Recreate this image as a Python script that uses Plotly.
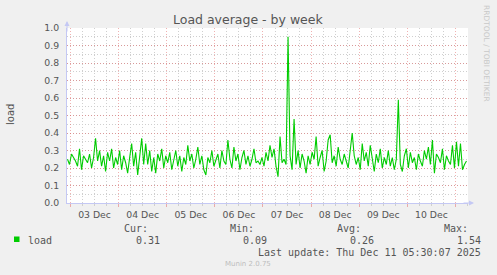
import plotly.graph_objects as go
import pandas as pd

# ---- data ----
start_time = "2025-12-02 22:30"
load_values = [
    0.25, 0.22, 0.28, 0.26, 0.24, 0.21, 0.31, 0.19, 0.27, 0.25, 0.23, 0.28, 0.20, 0.26, 0.37, 0.24, 0.30, 0.21, 0.27, 0.18,
    0.29, 0.24, 0.31, 0.20, 0.26, 0.22, 0.30, 0.19, 0.27, 0.23, 0.17, 0.26, 0.34, 0.21, 0.29, 0.16, 0.25, 0.37, 0.22, 0.34,
    0.22, 0.30, 0.18, 0.26, 0.17, 0.28, 0.24, 0.31, 0.20, 0.27, 0.23, 0.29, 0.19, 0.25, 0.30, 0.21, 0.27, 0.18, 0.26, 0.22,
    0.33, 0.24, 0.28, 0.20, 0.25, 0.32, 0.22, 0.27, 0.19, 0.16, 0.26, 0.23, 0.30, 0.21, 0.25, 0.28, 0.20, 0.30, 0.24, 0.22,
    0.36, 0.25, 0.20, 0.32, 0.24, 0.28, 0.19, 0.26, 0.30, 0.22, 0.27, 0.21, 0.25, 0.31, 0.23, 0.24, 0.22, 0.26, 0.21, 0.29,
    0.24, 0.33, 0.26, 0.31, 0.21, 0.15, 0.38, 0.23, 0.25, 0.22, 0.95, 0.27, 0.19, 0.48, 0.22, 0.30, 0.20, 0.28, 0.24, 0.17,
    0.27, 0.22, 0.29, 0.25, 0.38, 0.21, 0.26, 0.30, 0.18, 0.24, 0.36, 0.39, 0.23, 0.27, 0.21, 0.32, 0.25, 0.22, 0.28, 0.24,
    0.20, 0.30, 0.40, 0.27, 0.22, 0.26, 0.19, 0.34, 0.24, 0.29, 0.21, 0.33, 0.26, 0.18, 0.28, 0.23, 0.31, 0.20, 0.26, 0.22,
    0.30, 0.21, 0.26, 0.19, 0.25, 0.59, 0.22, 0.18, 0.27, 0.31, 0.20, 0.29, 0.23, 0.26, 0.19, 0.28, 0.24, 0.21, 0.30, 0.25,
    0.32, 0.22, 0.36, 0.17, 0.28, 0.26, 0.23, 0.31, 0.19, 0.27, 0.24, 0.22, 0.33, 0.20, 0.35, 0.21, 0.34, 0.19, 0.22, 0.24,
]
times = pd.date_range(start_time, periods=len(load_values), freq="h")

x_range = ["2025-12-02 22:15", "2025-12-11 06:15"]
y_ticks = [0.0, 0.1, 0.2, 0.3, 0.4, 0.5, 0.6, 0.7, 0.8, 0.9, 1.0]

title_text = "Load average - by week"
series_name = "load"
stat_labels = ["Cur:", "Min:", "Avg:", "Max:"]
stat_values = ["0.31", "0.09", "0.26", "1.54"]
last_update = "Last update: Thu Dec 11 05:30:07 2025"
footer = "Munin 2.0.75"
side_text = "RRDTOOL / TOBI OETIKER"

# ---- layout geometry ----
W, H = 497, 275
L, R, T, B = 67, 468, 28, 203


def px(x):
    return (x - L) / (R - L)


def py(y):
    return (B - y) / (B - T)


fig = go.Figure()
fig.add_trace(go.Scatter(x=times, y=load_values, mode="lines",
                         line=dict(color="#00CC00", width=1.1),
                         name=series_name, hoverinfo="skip"))

red_grid = "rgba(225,100,100,0.5)"
gray_grid = "#cfcfcf"
axis_col = "#c4c8f4"
txt = "#555555"
dots = "1px,2px"

fig.update_layout(
    width=W, height=H,
    margin=dict(l=L, r=W - R, t=T, b=H - B),
    paper_bgcolor="#F0F0F0", plot_bgcolor="#FFFFFF",
    showlegend=False,
    font=dict(family="DejaVu Sans", color=txt, size=9),
    xaxis=dict(
        type="date", range=x_range,
        dtick=86400000, tick0="2025-12-03",
        tickformat="%d %b", ticklabelmode="period",
        tickfont=dict(size=9.3, color=txt),
        showgrid=True, gridcolor=red_grid, griddash=dots, gridwidth=1,
        ticks="outside", ticklen=3, tickcolor=red_grid,
        minor=dict(dtick=21600000, showgrid=True, gridcolor=gray_grid, griddash=dots,
                   ticks="outside", ticklen=2, tickcolor=gray_grid),
        showline=True, linecolor=axis_col, linewidth=1,
        zeroline=False, fixedrange=True,
    ),
    yaxis=dict(
        range=[0, 1.0], tickvals=y_ticks, tickformat=".1f",
        tickfont=dict(size=9.3, color=txt),
        showgrid=True, gridcolor=red_grid, griddash=dots, gridwidth=1,
        ticks="", ticklabelstandoff=5,
        minor=dict(dtick=0.05, showgrid=True, gridcolor=gray_grid, griddash=dots),
        showline=True, linecolor=axis_col, linewidth=1,
        zeroline=False, fixedrange=True,
    ),
)


def text_ann(text, x, y, font, xanchor="center", textangle=0):
    return dict(text=text, x=px(x), y=py(y), xref="paper", yref="paper",
                xanchor=xanchor, yanchor="middle", showarrow=False,
                textangle=textangle, font=font)


ann = []
ann.append(text_ann(title_text, 248, 19, dict(size=12.5, color=txt, family="DejaVu Sans")))
ann.append(text_ann(series_name, 10, 115, dict(size=10, color=txt, family="DejaVu Sans"), textangle=-90))
ann.append(text_ann(side_text, 487, 53, dict(size=7.5, color="#c8c8c8", family="DejaVu Sans"), textangle=90))
# axis arrows
ann.append(dict(x=px(67), y=py(21), xref="paper", yref="paper", ax=0, ay=12,
                showarrow=True, arrowhead=2, arrowsize=1, arrowwidth=1, arrowcolor=axis_col, text=""))
ann.append(dict(x=px(474), y=py(203), xref="paper", yref="paper", ax=-12, ay=0,
                showarrow=True, arrowhead=2, arrowsize=1, arrowwidth=1, arrowcolor=axis_col, text=""))

mono = dict(family="DejaVu Sans Mono", size=10, color=txt)
label_right = [150, 256, 363, 470]
value_right = [162, 269, 376, 483]
for lab, vr, val, vv in zip(stat_labels, label_right, stat_values, value_right):
    ann.append(text_ann(lab, vr, 228, mono, xanchor="right"))
    ann.append(text_ann(val, vv, 240, mono, xanchor="right"))
ann.append(text_ann(series_name, 26, 240, mono, xanchor="left"))
ann.append(text_ann(last_update, 483, 252, mono, xanchor="right"))
ann.append(text_ann(footer, 247.5, 264, dict(family="DejaVu Sans", size=7, color="#bdbdbd")))
fig.update_layout(annotations=ann)

fig.add_shape(type="rect", xref="paper", yref="paper",
              x0=px(14), x1=px(19.5), y0=py(242), y1=py(236.5),
              fillcolor="#00CC00", line=dict(width=0))

fig.write_html("out.html")
